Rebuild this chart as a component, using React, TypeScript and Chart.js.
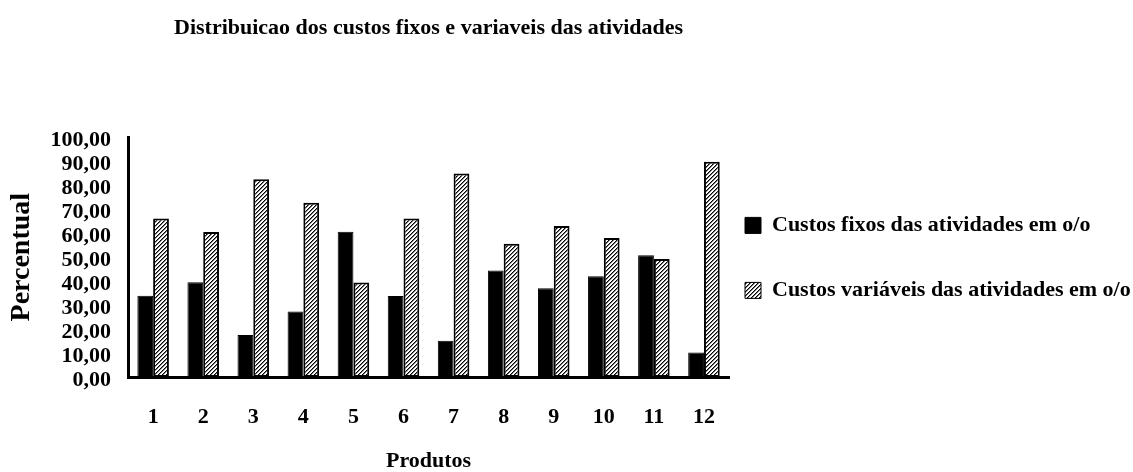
import React, { useEffect, useRef } from 'react';
import { Chart, registerables } from 'chart.js';

Chart.register(...registerables);

const chartTitle = 'Distribuicao dos custos fixos e variaveis das atividades';
const xAxisTitle = 'Produtos';
const yAxisTitle = 'Percentual';
const categories = ['1', '2', '3', '4', '5', '6', '7', '8', '9', '10', '11', '12'];
const seriesNames = ['Custos fixos das atividades em o/o', 'Custos variáveis das atividades em o/o'];
const custosFixos = [33.9, 39.5, 17.5, 27.3, 60.6, 33.8, 15.1, 44.4, 37.0, 42.0, 50.8, 10.2];
const custosVariaveis = [66.1, 60.5, 82.5, 72.7, 39.4, 66.2, 84.9, 55.6, 63.0, 58.0, 49.2, 89.8];
const yTickValues = [0, 10, 20, 30, 40, 50, 60, 70, 80, 90, 100];

const FONT = "'Liberation Serif', 'Times New Roman', serif";

function makeHatch(ctx: CanvasRenderingContext2D): CanvasPattern | string {
  const c = document.createElement('canvas');
  c.width = 4;
  c.height = 4;
  const g = c.getContext('2d');
  if (!g) return '#999';
  g.fillStyle = '#ffffff';
  g.fillRect(0, 0, 4, 4);
  for (let y = 0; y < 4; y++) {
    for (let x = 0; x < 4; x++) {
      const k = (x + y) % 4;
      if (k === 0) {
        g.fillStyle = '#000000';
        g.fillRect(x, y, 1, 1);
      } else if (k === 1) {
        g.fillStyle = '#777777';
        g.fillRect(x, y, 1, 1);
      }
    }
  }
  return ctx.createPattern(c, 'repeat') || '#999';
}

export default function App() {
  const ref = useRef<HTMLCanvasElement | null>(null);

  useEffect(() => {
    document.body.style.margin = '0';
    const canvas = ref.current;
    if (!canvas) return;
    const ctx = canvas.getContext('2d');
    if (!ctx) return;
    const hatch = makeHatch(ctx);

    const chart = new Chart(canvas, {
      type: 'bar',
      data: {
        labels: categories,
        datasets: [
          {
            label: seriesNames[0],
            data: custosFixos,
            backgroundColor: '#000000',
            borderColor: '#000000',
            borderWidth: 1,
            borderSkipped: false,
            categoryPercentage: 0.63,
            barPercentage: 1.0,
          },
          {
            label: seriesNames[1],
            data: custosVariaveis,
            backgroundColor: hatch as any,
            borderColor: '#000000',
            borderWidth: 2,
            borderSkipped: false,
            categoryPercentage: 0.63,
            barPercentage: 1.0,
          },
        ],
      },
      options: {
        animation: false,
        responsive: true,
        maintainAspectRatio: false,
        layout: { padding: { left: 0, right: 0, top: 0, bottom: 0 } },
        plugins: {
          tooltip: { enabled: false },
          title: {
            display: true,
            text: chartTitle,
            color: '#000',
            fullSize: false,
            font: { family: FONT, size: 22, weight: 'bold', lineHeight: 1.2 },
            padding: { top: 15, bottom: 96 },
          },
          legend: {
            display: true,
            position: 'right',
            align: 'start',
            fullSize: false,
            maxWidth: 404,
            title: {
              display: true,
              text: ' ',
              font: { family: FONT, size: 22, lineHeight: 1.2 },
              padding: { top: 34.6, bottom: 0 },
            },
            labels: {
              color: '#000',
              boxWidth: 16,
              boxHeight: 16,
              padding: 16,
              font: { family: FONT, size: 22, weight: 'bold', lineHeight: 49 / 22 },
              generateLabels: (ch: any) => {
                const items = Chart.defaults.plugins.legend.labels.generateLabels(ch);
                return items.map((it: any) => ({ ...it, text: [it.text], lineWidth: 1, strokeStyle: '#000' }));
              },
            },
          },
        },
        scales: {
          x: {
            grid: { display: false, drawTicks: false },
            border: { display: true, color: '#000', width: 3 },
            ticks: {
              color: '#000',
              padding: 29,
              maxRotation: 0,
              autoSkip: false,
              font: { family: FONT, size: 22, weight: 'bold', lineHeight: 1.0 },
            },
            title: {
              display: true,
              text: xAxisTitle,
              color: '#000',
              font: { family: FONT, size: 22, weight: 'bold', lineHeight: 1.0 },
              padding: { top: -7, bottom: 0 },
            },
          },
          y: {
            min: 0,
            max: 100,
            grid: { display: false, drawTicks: false },
            border: { display: true, color: '#000', width: 3 },
            afterBuildTicks: (scale: any) => {
              scale.ticks = yTickValues.map((v) => ({ value: v }));
            },
            ticks: {
              color: '#000',
              padding: 17,
              labelOffset: 3,
              autoSkip: false,
              font: { family: FONT, size: 22, weight: 'bold', lineHeight: 1.0 },
              callback: (v: any) => Number(v).toFixed(2).replace('.', ','),
            },
            title: {
              display: true,
              text: yAxisTitle,
              color: '#000',
              font: { family: FONT, size: 28, weight: 'bold', lineHeight: 1.2 },
              padding: { top: 5, bottom: -5 },
            },
          },
        },
      },
    });
    return () => chart.destroy();
  }, []);

  return (
    <div style={{ position: 'relative', width: 1133, height: 472 }}>
      <canvas ref={ref} />
    </div>
  );
}
